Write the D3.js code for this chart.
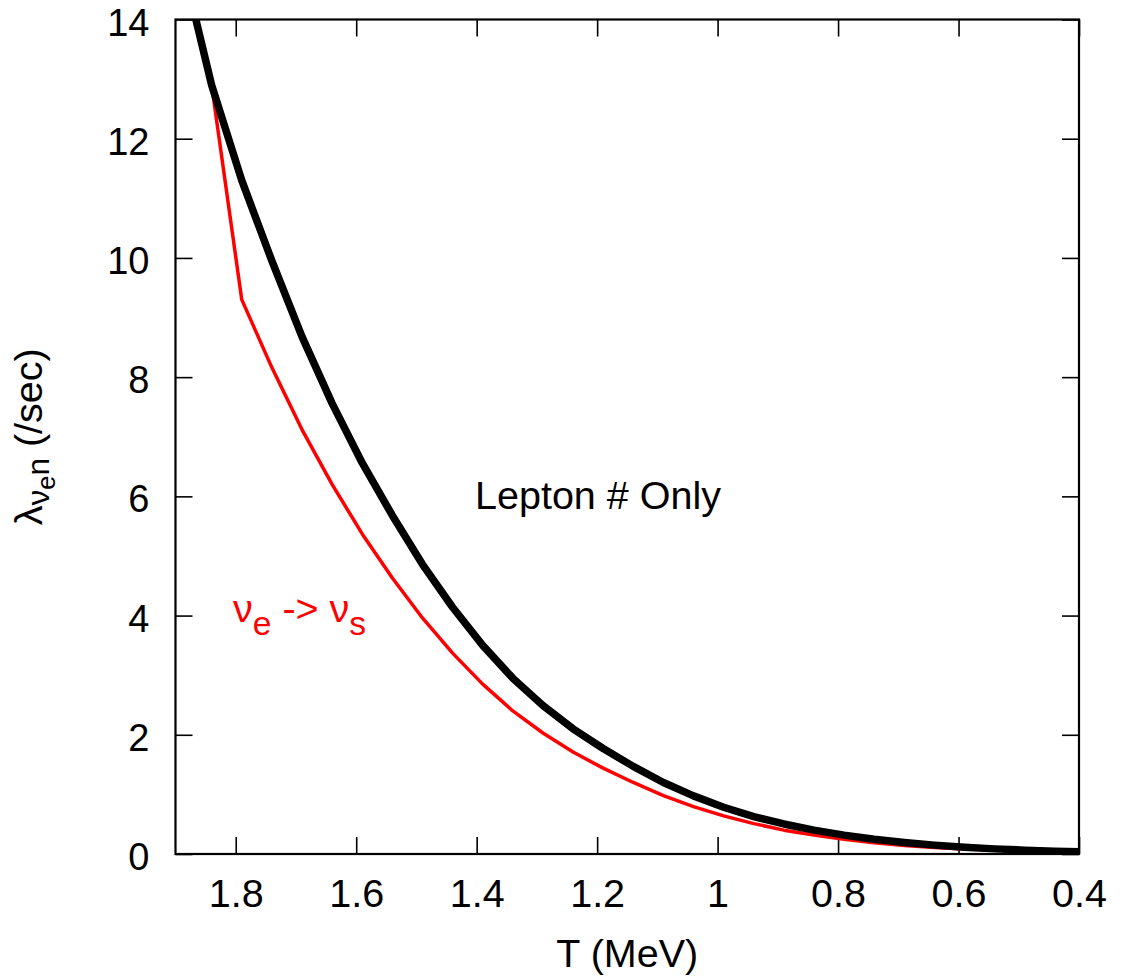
<!DOCTYPE html>
<html>
<head>
<meta charset="utf-8">
<script src="https://cdn.jsdelivr.net/npm/d3@7"></script>
<style>
  html, body { margin: 0; padding: 0; background: #fff; }
  svg { display: block; }
  text { font-family: "Liberation Sans", Arial, Helvetica, sans-serif; }
</style>
</head>
<body>
<svg id="chart" width="1123" height="980"></svg>
<script>
// ---- data ----
const temperatures = [1.89,1.84,1.79,1.74,1.69,1.64,1.59,1.54,1.49,1.44,1.39,1.34,1.29,1.24,1.19,1.14,1.09,1.04,0.99,0.94,0.89,0.84,0.79,0.74,0.69,0.64,0.59,0.54,0.49,0.44,0.39];
const leptonOnly = [15.0,12.9,11.3,9.95,8.68,7.56,6.56,5.68,4.86,4.14,3.50,2.95,2.49,2.10,1.77,1.47,1.20,0.975,0.785,0.628,0.504,0.401,0.317,0.248,0.193,0.149,0.114,0.086,0.065,0.048,0.036];
const sterile = [15.2,12.9,9.3,8.16,7.12,6.2,5.37,4.63,3.96,3.37,2.85,2.40,2.03,1.71,1.44,1.20,0.98,0.795,0.64,0.51,0.40,0.32,0.247,0.19,0.143,0.11,0.085,0.066,0.052,0.041,0.032];
const xTicks = [1.8,1.6,1.4,1.2,1.0,0.8,0.6,0.4];
const xTickLabels = ["1.8","1.6","1.4","1.2","1","0.8","0.6","0.4"];
const yTicks = [0,2,4,6,8,10,12,14];
const yTickLabels = ["0","2","4","6","8","10","12","14"];

const svg = d3.select("#chart");
const L = 175.5, R = 1079, T = 19.5, B = 854;
const FS = 39.5;
const FS_Y = 38;
const SUB = 0.85;

const x = d3.scaleLinear().domain([1.9, 0.4]).range([L, R]);
const y = d3.scaleLinear().domain([0, 14]).range([B, T]);

svg.append("defs").append("clipPath").attr("id", "clip")
  .append("rect").attr("x", L).attr("y", T).attr("width", R - L).attr("height", B - T);

// ---- ticks (inward, mirrored) ----
const tickLen = 17;
function styleAxis(g) {
  g.select(".domain").remove();
  g.selectAll(".tick line").attr("stroke", "#000").attr("stroke-width", 1.6);
}
svg.append("g").attr("transform", `translate(0,${B})`)
  .call(d3.axisBottom(x).tickValues(xTicks).tickSizeInner(-tickLen).tickSizeOuter(0)
    .tickFormat((d, i) => xTickLabels[i]))
  .call(styleAxis)
  .call(g => g.selectAll(".tick text").attr("y", 53).attr("dy", null)
    .attr("font-size", FS).attr("fill", "#000").attr("font-family", "Liberation Sans, Arial, sans-serif"));
svg.append("g").attr("transform", `translate(0,${T})`)
  .call(d3.axisTop(x).tickValues(xTicks).tickSizeInner(-tickLen).tickSizeOuter(0).tickFormat(""))
  .call(styleAxis);
svg.append("g").attr("transform", `translate(${L},0)`)
  .call(d3.axisLeft(y).tickValues(yTicks).tickSizeInner(-tickLen).tickSizeOuter(0)
    .tickFormat((d, i) => yTickLabels[i]))
  .call(styleAxis)
  .call(g => g.selectAll(".tick text").attr("x", -26).attr("dy", "0.41em")
    .attr("font-size", FS_Y).attr("fill", "#000").attr("font-family", "Liberation Sans, Arial, sans-serif"));
svg.append("g").attr("transform", `translate(${R},0)`)
  .call(d3.axisRight(y).tickValues(yTicks).tickSizeInner(-tickLen).tickSizeOuter(0).tickFormat(""))
  .call(styleAxis);

// ---- curves ----
const line = d3.line().x(d => x(d[0])).y(d => y(d[1]));
const plot = svg.append("g").attr("clip-path", "url(#clip)");
plot.append("path")
  .datum(temperatures.map((t, i) => [t, sterile[i]]))
  .attr("fill", "none").attr("stroke", "#ff0000").attr("stroke-width", 3.5)
  .attr("stroke-linejoin", "round").attr("d", line);
plot.append("path")
  .datum(temperatures.map((t, i) => [t, leptonOnly[i]]))
  .attr("fill", "none").attr("stroke", "#000").attr("stroke-width", 7.5)
  .attr("stroke-linejoin", "round").attr("d", line);

// ---- frame ----
svg.append("rect").attr("x", L).attr("y", T).attr("width", R - L).attr("height", B - T)
  .attr("fill", "none").attr("stroke", "#000").attr("stroke-width", 2.2);

// ---- axis titles ----
svg.append("text").attr("x", (L + R) / 2).attr("y", 967).attr("text-anchor", "middle")
  .attr("font-size", FS).text("T (MeV)");

const yt = svg.append("text").attr("transform", `translate(42,${(T + B) / 2}) rotate(-90)`)
  .attr("text-anchor", "middle").attr("font-size", FS);
yt.append("tspan").text("λ");
yt.append("tspan").attr("font-size", FS * 0.8).attr("dy", 7).text("ν");
yt.append("tspan").attr("font-size", FS * 0.64).attr("dy", 6).text("e");
yt.append("tspan").attr("font-size", FS * 0.8).attr("dy", -6).text("n");
yt.append("tspan").attr("dy", -7).text(" (/sec)");

// ---- annotations ----
svg.append("text").attr("x", 475).attr("y", 509).attr("font-size", FS).attr("fill", "#000")
  .text("Lepton # Only");
const an = svg.append("text").attr("x", 233).attr("y", 622).attr("font-size", FS).attr("fill", "#ff0000");
an.append("tspan").text("ν");
an.append("tspan").attr("font-size", FS * SUB).attr("dy", 13).text("e");
an.append("tspan").attr("dy", -13).text(" -> ν");
an.append("tspan").attr("font-size", FS * SUB).attr("dy", 13).text("s");
</script>
</body>
</html>
